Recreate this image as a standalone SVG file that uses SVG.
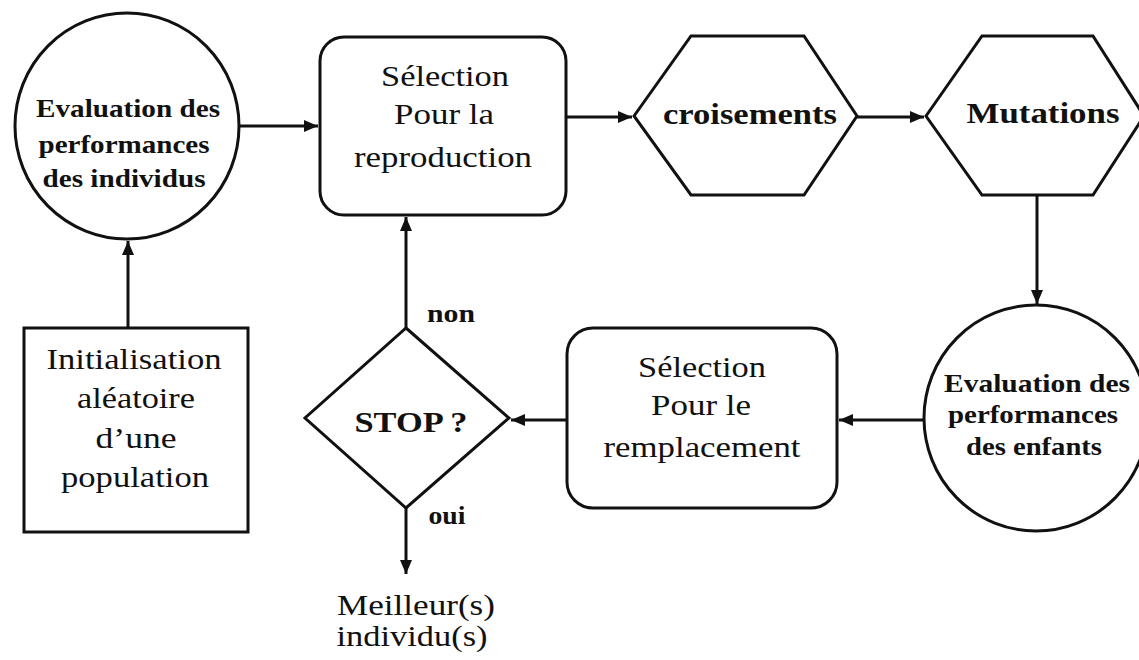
<svg xmlns="http://www.w3.org/2000/svg" width="1139" height="660" viewBox="0 0 1139 660">
<defs>
<style>
.shape{fill:#fff;stroke:#111;stroke-width:3}
.edge{fill:none;stroke:#111;stroke-width:3}
text{font-family:"Liberation Serif","Times New Roman",serif;fill:#111;text-anchor:middle}
.b{font-weight:bold}
.r{font-size:30px}
.e{font-size:25px;font-weight:bold}
</style>
<marker id="ah" markerUnits="userSpaceOnUse" markerWidth="14" markerHeight="12" refX="14" refY="6" orient="auto">
<path d="M0,0 L14,6 L0,12 z" fill="#111"/>
</marker>
</defs>
<rect width="1139" height="660" fill="#fff"/>
<g id="connectors">
<path class="edge" d="M239,126 H318" marker-end="url(#ah)"/>
<path class="edge" d="M566,117 H632" marker-end="url(#ah)"/>
<path class="edge" d="M857,117 H924" marker-end="url(#ah)"/>
<path class="edge" d="M1037,195 V304" marker-end="url(#ah)"/>
<path class="edge" d="M924,420 H839" marker-end="url(#ah)"/>
<path class="edge" d="M567,420 H511" marker-end="url(#ah)"/>
<path class="edge" d="M406,328 V217" marker-end="url(#ah)"/>
<path class="edge" d="M406,508 V574" marker-end="url(#ah)"/>
<path class="edge" d="M128,328 V241" marker-end="url(#ah)"/>
</g>
<g id="eval-individus">
<ellipse class="shape" cx="127" cy="126" rx="112" ry="113"/>
<text class="e" x="128" y="117" textLength="184" lengthAdjust="spacingAndGlyphs">Evaluation des</text>
<text class="e" x="124" y="153" textLength="171" lengthAdjust="spacingAndGlyphs">performances</text>
<text class="e" x="124" y="187" textLength="163" lengthAdjust="spacingAndGlyphs">des individus</text>
</g>
<g id="selection-reproduction">
<rect class="shape" x="320" y="37" width="246" height="178" rx="24"/>
<text class="r" x="445" y="86" textLength="128" lengthAdjust="spacingAndGlyphs">Sélection</text>
<text class="r" x="444" y="124" textLength="100" lengthAdjust="spacingAndGlyphs">Pour la</text>
<text class="r" x="443" y="167" textLength="178" lengthAdjust="spacingAndGlyphs">reproduction</text>
</g>
<g id="croisements">
<polygon class="shape" points="634,116 691,36 804,36 857,116 804,195 691,195"/>
<text class="b" font-size="30" x="750" y="124" textLength="174" lengthAdjust="spacingAndGlyphs">croisements</text>
</g>
<g id="mutations">
<polygon class="shape" points="926,116 982,36 1093,36 1144,116 1093,195 982,195"/>
<text class="b" font-size="30" x="1043" y="123" textLength="153" lengthAdjust="spacingAndGlyphs">Mutations</text>
</g>
<g id="eval-enfants">
<ellipse class="shape" cx="1036" cy="418" rx="112" ry="113"/>
<text class="e" x="1037" y="392" textLength="186" lengthAdjust="spacingAndGlyphs">Evaluation des</text>
<text class="e" x="1033" y="423" textLength="170" lengthAdjust="spacingAndGlyphs">performances</text>
<text class="e" x="1034" y="455" textLength="136" lengthAdjust="spacingAndGlyphs">des enfants</text>
</g>
<g id="selection-remplacement">
<rect class="shape" x="567" y="328" width="270" height="180" rx="26"/>
<text class="r" x="702" y="377" textLength="128" lengthAdjust="spacingAndGlyphs">Sélection</text>
<text class="r" x="701" y="415" textLength="100" lengthAdjust="spacingAndGlyphs">Pour le</text>
<text class="r" x="702" y="457" textLength="197" lengthAdjust="spacingAndGlyphs">remplacement</text>
</g>
<g id="stop">
<polygon class="shape" points="406,328 509,418 406,508 305,418"/>
<text class="b" font-size="29" x="411" y="432" textLength="113" lengthAdjust="spacingAndGlyphs">STOP ?</text>
</g>
<g id="labels">
<text class="b" font-size="25" x="451" y="322" textLength="48" lengthAdjust="spacingAndGlyphs">non</text>
<text class="b" font-size="25" x="447" y="524" textLength="37" lengthAdjust="spacingAndGlyphs">oui</text>
</g>
<g id="initialisation">
<rect class="shape" x="24" y="328" width="224" height="204"/>
<text class="r" x="134" y="369" textLength="175" lengthAdjust="spacingAndGlyphs">Initialisation</text>
<text class="r" x="136" y="408" textLength="118" lengthAdjust="spacingAndGlyphs">aléatoire</text>
<text class="r" x="136" y="448" textLength="81" lengthAdjust="spacingAndGlyphs">d’une</text>
<text class="r" x="135" y="487" textLength="148" lengthAdjust="spacingAndGlyphs">population</text>
</g>
<g id="resultat">
<text class="r" x="416" y="615" textLength="158" lengthAdjust="spacingAndGlyphs">Meilleur(s)</text>
<text class="r" x="412" y="646" textLength="151" lengthAdjust="spacingAndGlyphs">individu(s)</text>
</g>
</svg>
